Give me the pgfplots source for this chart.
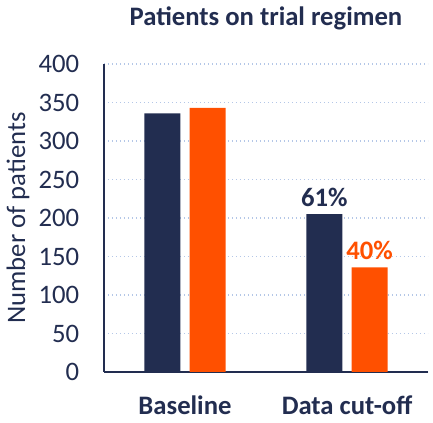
\documentclass[border=0pt]{standalone}
\usepackage{fontspec}
\setmainfont{Carlito}
\usepackage{pgfplots}
\pgfplotsset{compat=1.18}
\definecolor{Navy}{HTML}{222D50}
\definecolor{Flame}{HTML}{FF5000}
\definecolor{GridBlue}{HTML}{B4C7E7}

\begin{document}
\begin{tikzpicture}
\begin{axis}[
    scale only axis,
    width=243pt, height=231pt,
    xmin=-0.5, xmax=1.5, ymin=0, ymax=400,
    ytick={0,50,...,400},
    xtick={0,1}, xticklabels={Baseline, Data cut-off},
    major tick length=0pt,
    axis x line=bottom, axis y line=left,
    axis line style={-, Navy, line width=1.5pt},
    ymajorgrids,
    grid style={GridBlue, line width=1.1pt, dash pattern=on 1.1pt off 1.9pt},
    /pgf/number format/assume math mode=true,
    tick label style={font=\fontsize{20}{24}\selectfont, text=Navy},
    yticklabel style={anchor=east, inner sep=0pt, xshift=-18.5pt},
    xticklabel style={font=\fontsize{20}{24}\selectfont\bfseries, anchor=base, inner sep=0pt, yshift=-32pt},
    ylabel={Number of patients},
    ylabel style={font=\fontsize{20}{24}\selectfont, text=Navy, at={(axis description cs:-0.265,0.5)}, anchor=center},
    title={Patients on trial regimen},
    title style={font=\fontsize{20}{24}\selectfont\bfseries, text=Navy, at={(axis description cs:0.5,1)}, anchor=base, inner sep=0pt, yshift=23pt},
    ybar, bar width=0.222,
    nodes near coords,
    point meta=explicit symbolic,
    every node near coord/.append style={font=\fontsize{20}{24}\selectfont\bfseries, anchor=base, inner sep=0pt, yshift=6pt},
    clip=false,
]
\addplot[fill=Navy, draw=none, bar shift=-0.14, nodes near coords style={text=Navy}]
    coordinates {(0,336) [{}] (1,205) [61\%]};
\addplot[fill=Flame, draw=none, bar shift=0.14, nodes near coords style={text=Flame}]
    coordinates {(0,343) [{}] (1,136) [40\%]};
\coordinate (ll) at (axis description cs:0,0);
\coordinate (ur) at (axis description cs:1,1);
\end{axis}
\pgfresetboundingbox
\useasboundingbox ([shift={(-78pt,-38.25pt)}]ll) rectangle ([shift={(3.75pt,48pt)}]ur);
\end{tikzpicture}
\end{document}
